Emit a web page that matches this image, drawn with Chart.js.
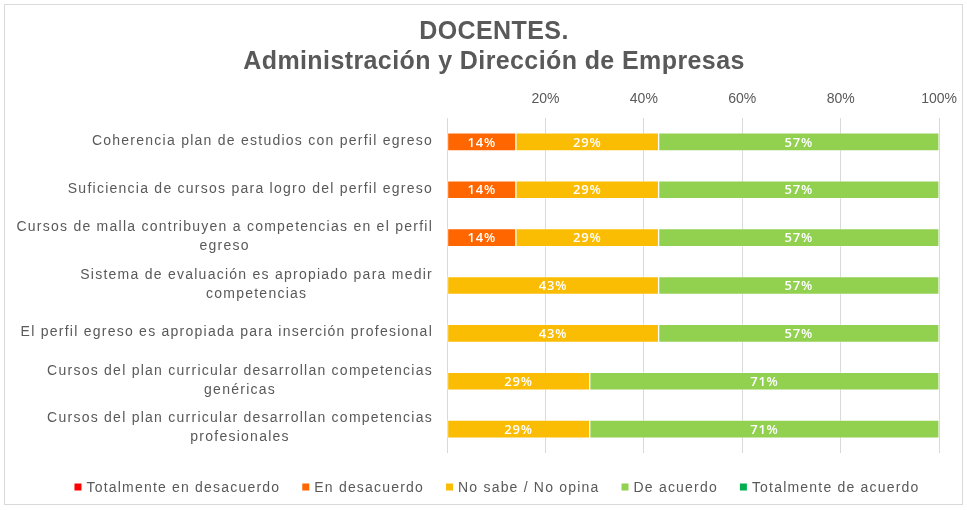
<!DOCTYPE html>
<html>
<head>
<meta charset="utf-8">
<script src="https://cdn.jsdelivr.net/npm/chart.js@4.4.1/dist/chart.umd.min.js"></script>
<style>
  html, body { margin: 0; padding: 0; background: #ffffff; }
  #wrap { width: 967px; height: 510px; position: relative; }
  canvas { display: block; }
</style>
</head>
<body>
<div id="wrap"><canvas id="chart" width="967" height="510"></canvas></div>
<script>
// Survey results (percent of respondents) per statement
const titleLines = ["DOCENTES.", "Administración y Dirección de Empresas"];

const categories = [
  ["Coherencia plan de estudios con perfil egreso"],
  ["Suficiencia de cursos para logro del perfil egreso"],
  ["Cursos de malla contribuyen a competencias en el perfil", "egreso"],
  ["Sistema de evaluación es apropiado para medir", "competencias"],
  ["El perfil egreso es apropiada para inserción profesional"],
  ["Cursos del plan curricular desarrollan competencias", "genéricas"],
  ["Cursos del plan curricular desarrollan competencias", "profesionales"]
];

const seriesNames = [
  "Totalmente en desacuerdo",
  "En desacuerdo",
  "No sabe / No opina",
  "De acuerdo",
  "Totalmente de acuerdo"
];
const seriesColors = ["#FF0000", "#FF6600", "#FBBC04", "#92D050", "#00B050"];

const totalmenteDesacuerdo = [0, 0, 0, 0, 0, 0, 0];
const enDesacuerdo         = [14, 14, 14, 0, 0, 0, 0];
const noSabe               = [29, 29, 29, 43, 43, 29, 29];
const deAcuerdo            = [57, 57, 57, 57, 57, 71, 71];
const totalmenteAcuerdo    = [0, 0, 0, 0, 0, 0, 0];

const axisTicks = { min: 0, max: 100, step: 20 };

const seriesValues = [totalmenteDesacuerdo, enDesacuerdo, noSabe, deAcuerdo, totalmenteAcuerdo];

const TEXT_COLOR = "#595959";
const SANS = "'Liberation Sans', Arial, sans-serif";

function setSpacing(ctx, px) {
  if ('letterSpacing' in ctx) ctx.letterSpacing = px + "px";
}

// Frame, title, category labels and legend drawn on the canvas
const decorations = {
  id: "decorations",
  beforeDraw(chart) {
    const ctx = chart.ctx;
    ctx.save();
    ctx.fillStyle = "#ffffff";
    ctx.fillRect(0, 0, chart.width, chart.height);
    ctx.strokeStyle = "#D9D9D9";
    ctx.lineWidth = 1;
    ctx.strokeRect(4.5, 4.5, 958, 500);
    ctx.restore();
  },
  afterDraw(chart) {
    const ctx = chart.ctx;
    // title
    ctx.save();
    ctx.fillStyle = TEXT_COLOR;
    ctx.font = "bold 25px " + SANS;
    setSpacing(ctx, 0.4);
    ctx.textAlign = "center";
    ctx.textBaseline = "middle";
    ctx.fillText(titleLines[0], 494, 32);
    ctx.fillText(titleLines[1], 494, 62);
    ctx.restore();

    // category labels: block right-aligned, lines centred within the block
    const yScale = chart.scales.y;
    ctx.save();
    ctx.fillStyle = TEXT_COLOR;
    ctx.font = "14px " + SANS;
    setSpacing(ctx, 1.25);
    ctx.textAlign = "center";
    ctx.textBaseline = "middle";
    const lineH = 19;
    const right = 433;
    categories.forEach((lines, i) => {
      const y = yScale.getPixelForValue(i) - 1;
      const w = Math.max(...lines.map(l => ctx.measureText(l).width));
      const cx = right - w / 2;
      lines.forEach((l, j) => {
        ctx.fillText(l, cx, y + (j - (lines.length - 1) / 2) * lineH);
      });
    });
    ctx.restore();

    // legend
    ctx.save();
    ctx.font = "14px " + SANS;
    setSpacing(ctx, 1.2);
    ctx.textBaseline = "middle";
    ctx.textAlign = "left";
    const box = 7, gapBox = 5, gapItem = 22;
    const widths = seriesNames.map(n => ctx.measureText(n).width);
    const total = widths.reduce((a, w) => a + box + gapBox + w, 0) + gapItem * (seriesNames.length - 1);
    let x = 497 - total / 2;
    const ly = 487;
    seriesNames.forEach((n, i) => {
      ctx.fillStyle = seriesColors[i];
      ctx.fillRect(x, ly - box / 2, box, box);
      x += box + gapBox;
      ctx.fillStyle = TEXT_COLOR;
      ctx.fillText(n, x, ly + 1);
      x += widths[i] + gapItem;
    });
    ctx.restore();
  },
  // value labels centred inside each bar segment
  afterDatasetsDraw(chart) {
    const ctx = chart.ctx;
    ctx.save();
    ctx.fillStyle = "#ffffff";
    ctx.font = "600 13px 'Open Sans', sans-serif";
    setSpacing(ctx, 0.8);
    ctx.textAlign = "center";
    ctx.textBaseline = "middle";
    chart.data.datasets.forEach((ds, di) => {
      const meta = chart.getDatasetMeta(di);
      meta.data.forEach((bar, i) => {
        const v = ds.data[i];
        if (!v) return;
        const cx = (bar.x + bar.base) / 2;
        ctx.fillText(v + "%", cx, bar.y + 1);
      });
    });
    ctx.restore();
  }
};

new Chart(document.getElementById("chart"), {
  type: "bar",
  data: {
    labels: categories,
    datasets: seriesValues.map((vals, i) => ({
      label: seriesNames[i],
      data: vals,
      backgroundColor: seriesColors[i],
      borderColor: "rgba(255,255,255,0.35)",
      borderWidth: 1,
      borderSkipped: false,
      barThickness: 18
    }))
  },
  options: {
    indexAxis: "y",
    responsive: false,
    devicePixelRatio: 1,
    animation: false,
    layout: { padding: { top: 80, right: 27, bottom: 57, left: 0 } },
    plugins: {
      legend: { display: false },
      title: { display: false },
      tooltip: { enabled: false }
    },
    scales: {
      x: {
        position: "top",
        stacked: true,
        min: axisTicks.min,
        max: axisTicks.max,
        ticks: {
          stepSize: axisTicks.step,
          color: TEXT_COLOR,
          font: { family: SANS, size: 14 },
          padding: 10,
          callback: v => (v === 0 ? "" : v + "%")
        },
        grid: { color: "#D9D9D9", lineWidth: 1, drawTicks: false },
        border: { display: false },
        afterFit(scale) { scale.height = 38; }
      },
      y: {
        stacked: true,
        ticks: { display: false },
        grid: { display: false },
        border: { display: false },
        afterFit(scale) { scale.width = 447; }
      }
    }
  },
  plugins: [decorations]
});
</script>
</body>
</html>
